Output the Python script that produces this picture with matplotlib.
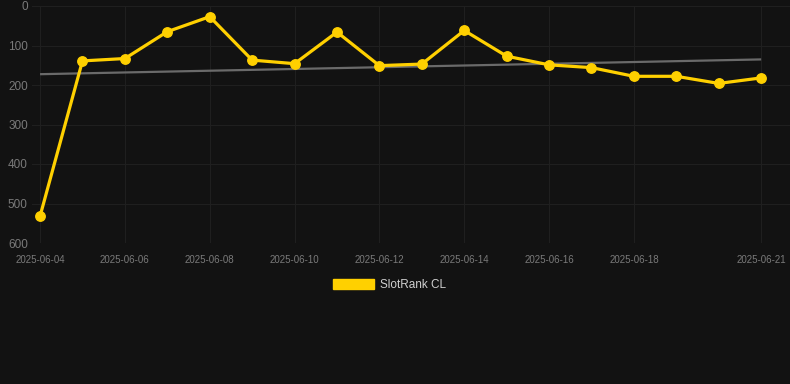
import numpy as np
import matplotlib
matplotlib.use("Agg")
import matplotlib.pyplot as plt
import matplotlib.dates as mdates
from matplotlib.patches import Patch
import datetime as dt

dates = ["2025-06-04", "2025-06-05", "2025-06-06", "2025-06-07", "2025-06-08",
         "2025-06-09", "2025-06-10", "2025-06-11", "2025-06-12", "2025-06-13",
         "2025-06-14", "2025-06-15", "2025-06-16", "2025-06-17", "2025-06-18",
         "2025-06-19", "2025-06-20", "2025-06-21"]
ranks = [532, 139, 133, 65, 27, 137, 146, 66, 151, 147, 62, 127, 149, 156,
         178, 178, 196, 182]
tick_labels = ["2025-06-04", "2025-06-06", "2025-06-08", "2025-06-10",
               "2025-06-12", "2025-06-14", "2025-06-16", "2025-06-18",
               "2025-06-21"]
y_ticks = [0, 100, 200, 300, 400, 500, 600]
series_name = "SlotRank CL"

BG = "#121212"
YELLOW = "#FFD000"
GRID = "#1f1f1f"
TXT = "#7a7a7a"

plt.rcParams["font.family"] = ["Liberation Sans", "DejaVu Sans"]

x = [dt.datetime.strptime(d, "%Y-%m-%d") for d in dates]
xn = mdates.date2num(x)

fig = plt.figure(figsize=(7.9, 3.84), dpi=100, facecolor=BG)
W, H = 790, 384
ax = fig.add_axes([32 / W, (H - 243) / H, (W - 32) / W, (243 - 6) / H])
ax.set_facecolor(BG)

# trend line (least squares fit)
p = np.polyfit(xn - xn[0], ranks, 1)
trend = np.polyval(p, xn - xn[0])
ax.plot([x[0], x[-1]], [trend[0], trend[-1]], color="#6a6a6a", lw=1.6,
        zorder=2, solid_capstyle="butt")

ax.plot(x, ranks, color=YELLOW, lw=2.3, marker="o", markersize=6.8,
        markerfacecolor=YELLOW, markeredgecolor=YELLOW, zorder=3)

day = 1.0
ax.set_xlim(xn[0] - 0.19 * day, xn[-1] + 0.68 * day)
ax.set_ylim(600, 0)
ax.set_yticks(y_ticks)
ax.set_yticklabels([str(v) for v in y_ticks])
tick_pos = [mdates.date2num(dt.datetime.strptime(t, "%Y-%m-%d")) for t in tick_labels]
ax.set_xticks(tick_pos)
ax.set_xticklabels(tick_labels)

ax.grid(True, color=GRID, lw=0.8, zorder=0)
ax.set_axisbelow(True)
for s in ax.spines.values():
    s.set_visible(False)
ax.tick_params(axis="y", length=0, pad=3, labelsize=8.5, labelcolor=TXT)
ax.tick_params(axis="x", length=0, pad=8.5, labelsize=7, labelcolor=TXT)

handle = Patch(facecolor=YELLOW, edgecolor=YELLOW)
leg = fig.legend([handle], [series_name], loc="center",
                 bbox_to_anchor=(389.5 / W, 1 - 285 / H), frameon=False,
                 fontsize=8.5, handlelength=3.4, handleheight=1.0,
                 handletextpad=0.5, labelcolor="#cfcfcf")

fig.savefig("out.png", dpi=100, facecolor=BG)
